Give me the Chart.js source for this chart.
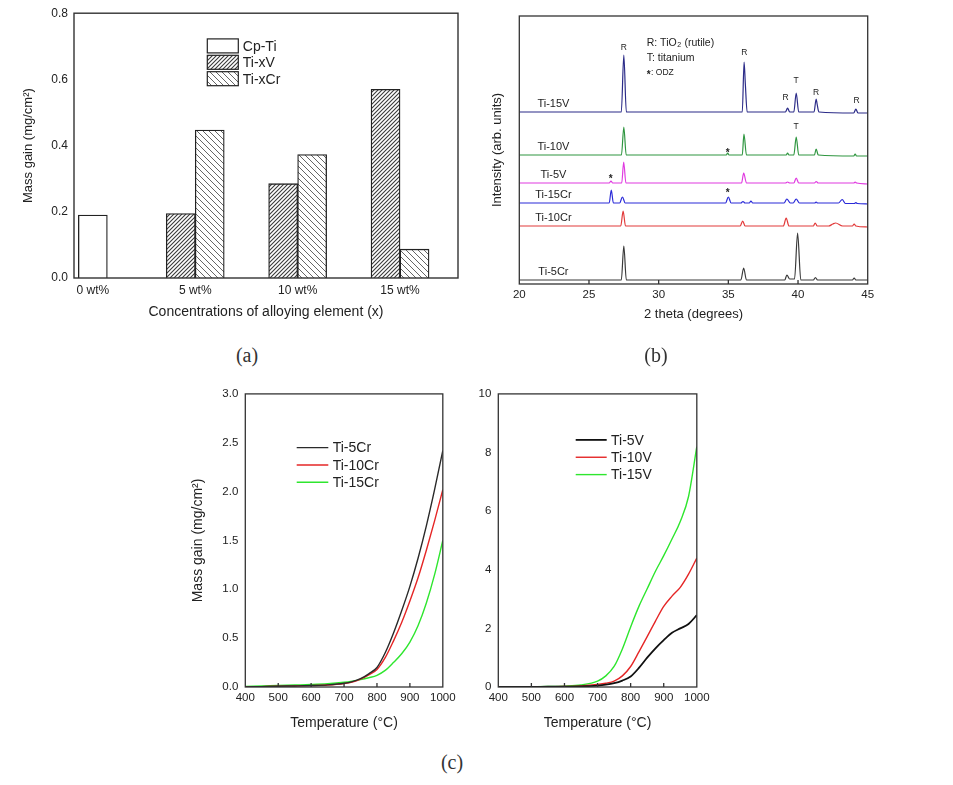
<!DOCTYPE html>
<html><head><meta charset="utf-8">
<script src="https://cdn.jsdelivr.net/npm/chart.js@4.4.1/dist/chart.umd.min.js"></script>
<style>
html,body{margin:0;padding:0;background:#fff;}
body{width:953px;height:785px;position:relative;overflow:hidden;}
canvas{position:absolute;}
.lab{position:absolute;width:60px;text-align:center;font-family:"Liberation Serif","DejaVu Serif",serif;font-size:20px;line-height:24px;color:#333;}
</style></head>
<body>
<canvas id="ca" width="470" height="330" style="left:0;top:0"></canvas>
<canvas id="cb" width="400" height="330" style="left:480px;top:0"></canvas>
<canvas id="cc1" width="280" height="360" style="left:180px;top:380px"></canvas>
<canvas id="cc2" width="259" height="360" style="left:455px;top:380px"></canvas>
<div class="lab" style="left:217px;top:343px">(a)</div>
<div class="lab" style="left:626px;top:343px">(b)</div>
<div class="lab" style="left:422px;top:750px">(c)</div>
<script>
// ---------- (a) mass gain bar data ----------
const concentrations = [0, 5, 10, 15];
const cpTiGain  = [0.19, null, null, null];
const tiXVGain  = [null, 0.195, 0.285, 0.57];
const tiXCrGain = [null, 0.447, 0.373, 0.087];

// ---------- (b) XRD patterns: [2theta, intensity (arb.)] ----------
const xrdTicks = [20, 25, 30, 35, 40, 45];
const xrdTi15V = [[20,172],[27.32,172],[27.5,229],[27.68,172],[36.0,172],[36.13,222],[36.22,200],[36.35,172],[39.1,172],[39.25,176],[39.4,172],[39.7,172],[39.87,191],[40.05,172],[41.15,172],[41.3,185],[41.37,180],[41.5,172],[44.0,171],[44.15,175],[44.3,171],[45,171]];
const xrdTi10V = [[20,129],[27.33,129],[27.5,157],[27.67,129],[34.85,129],[34.95,131],[35.05,129],[36.0,129],[36.12,150],[36.3,129],[39.15,129],[39.25,131],[39.35,129],[39.7,129],[39.87,147],[40.05,129],[41.18,129],[41.3,135],[41.45,129],[44.0,128],[44.1,130],[44.2,128],[45,128]];
const xrdTi5V  = [[20,101],[26.45,101],[26.58,103],[26.7,101],[27.35,101],[27.49,122],[27.65,101],[35.95,101],[36.1,111],[36.3,101],[39.1,101],[39.25,102],[39.4,101],[39.7,101],[39.87,106],[40.05,101],[41.18,101],[41.3,102.5],[41.45,101],[44.0,101],[44.1,102],[44.2,101],[45,100]];
const xrdTi15Cr = [[20,81],[26.45,81],[26.6,94],[26.75,81],[27.2,81],[27.4,87],[27.6,81],[34.8,81],[35.0,87],[35.2,81],[35.9,81],[36.05,82.5],[36.2,81],[36.5,81],[36.62,83],[36.75,81],[39.0,81],[39.2,85],[39.45,81],[39.65,81],[39.87,85],[40.1,81],[41.2,81],[41.3,82],[41.4,81],[42.9,81],[43.17,84.5],[43.4,80.5],[44.05,80.5],[44.15,81.5],[44.25,80.5],[45,80]];
const xrdTi10Cr = [[20,58],[27.28,58],[27.45,73],[27.62,58],[35.85,58],[36.03,63],[36.2,58],[38.95,58],[39.15,66],[39.35,58],[41.1,58],[41.23,61],[41.38,58],[42.2,58],[42.5,60],[42.7,61],[43.2,58],[43.9,58],[44.03,60],[44.15,58],[45,57]];
const xrdTi5Cr = [[20,4],[27.32,4],[27.5,38],[27.68,4],[35.9,4],[36.1,16],[36.3,4],[39.05,4],[39.2,9],[39.4,5],[39.75,5],[39.97,51],[40.2,4],[41.1,4],[41.25,6.5],[41.4,4],[43.9,4],[44.03,6],[44.15,4],[45,4]];
const xrdNames = ['Ti-15V', 'Ti-10V', 'Ti-5V', 'Ti-15Cr', 'Ti-10Cr', 'Ti-5Cr'];
// peak marks: [text, 2theta, intensity]
const peakMarks = [['R',27.5,236],['R',36.15,231],['R',39.1,186],['T',39.87,203],['R',41.3,191],['R',44.2,183],['T',39.87,157],
                   ['*',34.95,133],['*',26.55,107],['*',34.95,93]];

// ---------- (c) mass gain vs temperature ----------
const temps = [400,450,500,550,600,650,700,725,750,775,800,825,850,875,900,925,950,975,1000];
const ti5Cr  = [0,0.004,0.008,0.011,0.015,0.022,0.038,0.055,0.085,0.135,0.2,0.35,0.55,0.78,1.03,1.32,1.65,2.02,2.42];
const ti10Cr = [0,0.004,0.008,0.01,0.014,0.02,0.035,0.05,0.08,0.125,0.18,0.3,0.47,0.66,0.88,1.12,1.4,1.7,2.02];
const ti15Cr = [0.005,0.01,0.015,0.02,0.025,0.033,0.048,0.06,0.075,0.095,0.12,0.17,0.25,0.34,0.46,0.63,0.86,1.15,1.5];
const ti5V   = [0,0,0.005,0.008,0.012,0.02,0.05,0.08,0.13,0.22,0.36,0.65,1.0,1.32,1.6,1.85,2.0,2.15,2.45];
const ti10V  = [0,0,0.008,0.012,0.02,0.04,0.09,0.13,0.2,0.38,0.7,1.2,1.72,2.25,2.75,3.1,3.4,3.85,4.4];
const ti15V  = [0,0.005,0.01,0.015,0.03,0.07,0.2,0.38,0.7,1.3,2.05,2.75,3.35,3.95,4.48,5.05,5.65,6.5,8.2];

// ---------------------------------------------------------------
const FONT = '"Liberation Sans", Arial, sans-serif';
Chart.defaults.font.family = FONT;
Chart.defaults.color = '#222';
Chart.defaults.animation = false;

function hatch(ctx, dir, s, color, lw) {
  const c = document.createElement('canvas');
  c.width = s; c.height = s;
  const g = c.getContext('2d');
  g.fillStyle = '#fff'; g.fillRect(0, 0, s, s);
  g.strokeStyle = color; g.lineWidth = lw;
  g.beginPath();
  if (dir === '/') {
    g.moveTo(-1, s + 1); g.lineTo(s + 1, -1);
    g.moveTo(-1, 1); g.lineTo(1, -1);
    g.moveTo(s - 1, s + 1); g.lineTo(s + 1, s - 1);
  } else {
    g.moveTo(-1, -1); g.lineTo(s + 1, s + 1);
    g.moveTo(s - 1, -1); g.lineTo(s + 1, 1);
    g.moveTo(-1, s - 1); g.lineTo(1, s + 1);
  }
  g.stroke();
  return ctx.createPattern(c, 'repeat');
}

const framePlugin = {
  id: 'frame',
  afterDatasetsDraw(chart, args, o) {
    const {ctx, chartArea: a} = chart;
    ctx.save();
    ctx.strokeStyle = o.color || '#222';
    ctx.lineWidth = o.width || 1.2;
    ctx.strokeRect(a.left, a.top, a.right - a.left, a.bottom - a.top);
    if (o.xTickLen) {
      const xs = chart.scales.x;
      ctx.beginPath();
      xs.ticks.forEach(t => {
        const px = xs.getPixelForValue(t.value);
        if (px > a.left + 2 && px < a.right - 2) { ctx.moveTo(px, a.bottom); ctx.lineTo(px, a.bottom - o.xTickLen); }
      });
      ctx.stroke();
    }
    ctx.restore();
  }
};

const legendPlugin = {
  id: 'sideLegend',
  afterDraw(chart, args, o) {
    const {ctx, chartArea: a} = chart;
    ctx.save();
    ctx.font = o.font;
    ctx.textBaseline = 'middle';
    ctx.textAlign = 'left';
    chart.data.datasets.forEach((ds, i) => {
      const xL = a.left + o.x;
      const yT = a.top + o.y + i * o.dy;
      if (o.kind === 'box') {
        ctx.fillStyle = ds.backgroundColor;
        ctx.fillRect(xL, yT, o.w, o.h);
        ctx.strokeStyle = '#222'; ctx.lineWidth = 1.2;
        ctx.strokeRect(xL, yT, o.w, o.h);
        ctx.fillStyle = '#222';
        ctx.fillText(ds.label, xL + o.w + o.gap, yT + o.h / 2 + 1);
      } else {
        ctx.strokeStyle = ds.borderColor; ctx.lineWidth = ds.borderWidth;
        ctx.beginPath(); ctx.moveTo(xL, yT); ctx.lineTo(xL + o.w, yT); ctx.stroke();
        ctx.fillStyle = '#222';
        ctx.fillText(ds.label, xL + o.w + o.gap, yT + 1);
      }
    });
    ctx.restore();
  }
};

function fixedY(w) { return s => { s.width = w; }; }
function fixedX(h) { return s => { s.height = h; }; }

// ---------- (a) ----------
(function () {
  const cv = document.getElementById('ca');
  const ctx = cv.getContext('2d');
  const toXY = arr => concentrations.map((c, i) => ({x: c, y: arr[i]})).filter(p => p.y !== null);
  const common = {borderColor: '#222', borderWidth: 1.3, barThickness: 29, borderSkipped: 'start'};
  new Chart(ctx, {
    type: 'bar',
    data: {
      datasets: [
        Object.assign({label: 'Cp-Ti', data: toXY(cpTiGain), backgroundColor: '#ffffff'}, common),
        Object.assign({label: 'Ti-xV', data: toXY(tiXVGain), backgroundColor: hatch(ctx, '/', 4, '#3a3a3a', 1.1)}, common),
        Object.assign({label: 'Ti-xCr', data: toXY(tiXCrGain), backgroundColor: hatch(ctx, '\\', 6, '#555', 0.9)}, common)
      ]
    },
    options: {
      responsive: false,
      skipNull: true,
      layout: {padding: {left: 0, right: 12, top: 12, bottom: 0}, autoPadding: false},
      plugins: {legend: {display: false}, tooltip: {enabled: false},
        frame: {color: '#333', width: 1.4},
        sideLegend: {kind: 'box', x: 133.3, y: 25.7, dy: 16.4, w: 31, h: 14, gap: 4.5, font: '14px ' + FONT}},
      scales: {
        x: {type: 'linear', min: -0.92, max: 17.83, offset: false,
          grid: {display: false, drawTicks: false}, border: {display: false},
          afterBuildTicks: s => { s.ticks = concentrations.map(v => ({value: v})); },
          afterFit: fixedX(52),
          ticks: {autoSkip: false, maxRotation: 0, padding: 5, font: {size: 12}, callback: v => v + ' wt%'},
          title: {display: true, text: 'Concentrations of alloying element (x)', font: {size: 14}, padding: {top: 0, bottom: 9.6}}},
        y: {min: 0, max: 0.8,
          grid: {display: false, drawTicks: false}, border: {display: false},
          afterFit: fixedY(74),
          ticks: {stepSize: 0.2, padding: 6, font: {size: 12}, callback: v => v.toFixed(1)},
          title: {display: true, text: 'Mass gain (mg/cm²)', font: {size: 13}, padding: {top: 20.5, bottom: 0}}}
      }
    },
    plugins: [framePlugin, legendPlugin]
  });
})();

// ---------- (b) ----------
(function () {
  const cv = document.getElementById('cb');
  const ctx = cv.getContext('2d');
  const series = [xrdTi15V, xrdTi10V, xrdTi5V, xrdTi15Cr, xrdTi10Cr, xrdTi5Cr];
  const colors = ['#2b2b88', '#2f9640', '#e03ae0', '#2a2ad8', '#e23b3b', '#3a3a3a'];
  const annot = {
    id: 'xrdAnnot',
    afterDatasetsDraw(chart) {
      const {ctx, chartArea: a, scales: {x, y}} = chart;
      ctx.save();
      ctx.fillStyle = '#222';
      ctx.textAlign = 'center';
      ctx.textBaseline = 'middle';
      peakMarks.forEach(([t, th, inten]) => {
        if (t === '*') { ctx.font = 'bold 10px ' + FONT; ctx.fillText(t, x.getPixelForValue(th), y.getPixelForValue(inten) + 2.5); }
        else { ctx.font = '8.5px ' + FONT; ctx.fillText(t, x.getPixelForValue(th), y.getPixelForValue(inten)); }
      });
      ctx.font = '11px ' + FONT;
      chart.data.datasets.forEach(ds => {
        ctx.fillText(ds.label, x.getPixelForValue(22.45), y.getPixelForValue(ds.data[0].y) - 8);
      });
      // key
      ctx.textAlign = 'left';
      const lx = a.left + 127.4;
      ctx.font = '10.5px ' + FONT;
      let t1 = 'R: TiO';
      ctx.fillText(t1, lx, a.top + 26.7);
      let w1 = ctx.measureText(t1).width;
      ctx.font = '7px ' + FONT;
      ctx.fillText('2', lx + w1 + 0.5, a.top + 29.5);
      let w2 = ctx.measureText('2').width;
      ctx.font = '10.5px ' + FONT;
      ctx.fillText(' (rutile)', lx + w1 + w2 + 1, a.top + 26.7);
      ctx.fillText('T: titanium', lx, a.top + 41.7);
      ctx.font = 'bold 10px ' + FONT;
      ctx.fillText('*', lx, a.top + 59);
      let w3 = ctx.measureText('*').width;
      ctx.font = '8.5px ' + FONT;
      ctx.fillText(': ODZ', lx + w3 + 0.5, a.top + 56.7);
      ctx.restore();
    }
  };
  new Chart(ctx, {
    type: 'line',
    data: {
      datasets: series.map((s, i) => ({
        label: xrdNames[i],
        data: s.map(([t, v]) => ({x: t, y: v})),
        borderColor: colors[i], borderWidth: 1.2, pointRadius: 0,
        cubicInterpolationMode: 'monotone', fill: false
      }))
    },
    options: {
      responsive: false,
      layout: {padding: {left: 0, right: 12.3, top: 16, bottom: 0}, autoPadding: false},
      plugins: {legend: {display: false}, tooltip: {enabled: false},
        frame: {color: '#333', width: 1.3, xTickLen: 4}},
      scales: {
        x: {type: 'linear', min: 20, max: 45,
          grid: {display: false, drawTicks: false}, border: {display: false},
          afterBuildTicks: s => { s.ticks = xrdTicks.map(v => ({value: v})); },
          afterFit: fixedX(46),
          ticks: {autoSkip: false, maxRotation: 0, padding: 4, font: {size: 11.5}, callback: v => String(v)},
          title: {display: true, text: '2 theta (degrees)', font: {size: 13}, padding: {top: 0, bottom: 8.2}}},
        y: {min: 0, max: 268,
          grid: {display: false, drawTicks: false}, border: {display: false},
          afterFit: fixedY(39.3),
          ticks: {display: false},
          title: {display: true, text: 'Intensity (arb. units)', font: {size: 13}, padding: {top: 9.2, bottom: 0}}}
      }
    },
    plugins: [framePlugin, annot]
  });
})();

// ---------- (c) ----------
function tempChart(id, names, arrays, colors, widths, yMax, yStep, yDec, yTitle, yW, legendPos, rightPad) {
  const ctx = document.getElementById(id).getContext('2d');
  new Chart(ctx, {
    type: 'line',
    data: {
      datasets: arrays.map((arr, i) => ({
        label: names[i],
        data: temps.map((t, j) => ({x: t, y: arr[j]})),
        borderColor: colors[i], borderWidth: widths[i], pointRadius: 0,
        cubicInterpolationMode: 'monotone', fill: false
      }))
    },
    options: {
      responsive: false,
      layout: {padding: {left: 0, right: rightPad, top: 12.3, bottom: 0}, autoPadding: false},
      plugins: {legend: {display: false}, tooltip: {enabled: false},
        frame: {color: '#333', width: 1.3, xTickLen: 4},
        sideLegend: Object.assign({kind: 'line', font: '14px ' + FONT}, legendPos)},
      scales: {
        x: {type: 'linear', min: 400, max: 1000,
          grid: {display: false, drawTicks: false}, border: {display: false},
          afterFit: fixedX(53),
          ticks: {stepSize: 100, autoSkip: false, maxRotation: 0, padding: 4.4, font: {size: 11.5}, callback: v => String(v)},
          title: {display: true, text: 'Temperature (°C)', font: {size: 14}, padding: {top: 0, bottom: 8.6}}},
        y: {min: 0, max: yMax,
          grid: {display: false, drawTicks: false}, border: {display: false},
          afterFit: fixedY(yW),
          ticks: {stepSize: yStep, padding: 7, font: {size: 11.5}, callback: v => v.toFixed(yDec)},
          title: {display: !!yTitle, text: yTitle || '', font: {size: 14}, padding: {top: 9.6, bottom: 0}}}
      }
    },
    plugins: [framePlugin, legendPlugin]
  });
}
tempChart('cc1', ['Ti-5Cr', 'Ti-10Cr', 'Ti-15Cr'], [ti5Cr, ti10Cr, ti15Cr],
  ['#2a2a2a', '#e52626', '#2ee62e'], [1.4, 1.4, 1.4], 3, 0.5, 1, 'Mass gain (mg/cm²)', 65.3,
  {x: 51.4, y: 53.7, dy: 17.35, w: 31.6, gap: 4.4}, 0);
tempChart('cc2', ['Ti-5V', 'Ti-10V', 'Ti-15V'], [ti5V, ti10V, ti15V],
  ['#111111', '#e52626', '#2ee62e'], [1.8, 1.4, 1.4], 10, 2, 0, '', 43.3,
  {x: 77.4, y: 46, dy: 17.35, w: 31, gap: 4.3}, 0);
</script>
</body></html>
